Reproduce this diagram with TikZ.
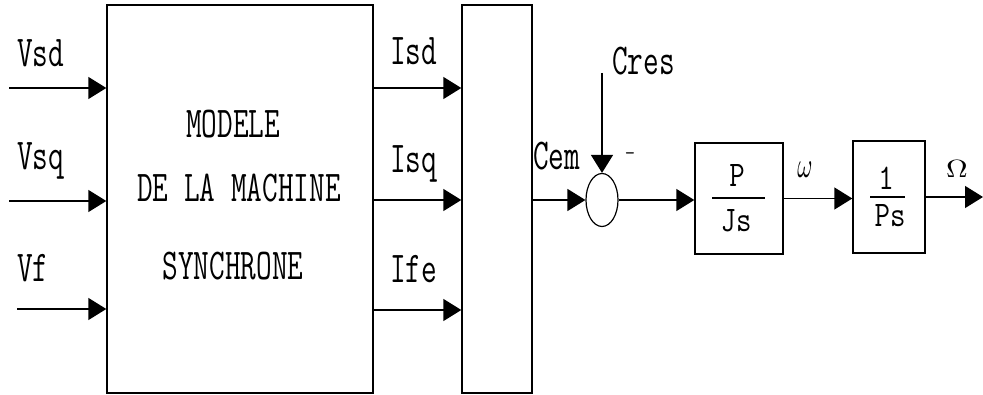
\documentclass[tikz,border=0pt]{standalone}
\usepackage{graphicx}
\usetikzlibrary{arrows.meta,shapes.geometric}
\newcommand{\nar}[2][0.76]{\scalebox{#1}[1.1]{#2}}
\newcommand{\frt}[1]{\scalebox{1.0}[1.2]{#1}}
\tikzset{
  big/.style={font=\fontsize{40}{40}\selectfont\ttfamily, inner sep=0pt, anchor=base},
  bigw/.style={big, anchor=base west},
  mid/.style={font=\fontsize{30}{30}\selectfont\ttfamily, inner sep=0pt, anchor=base},
  blk/.style={draw, line width=1.4pt, inner sep=0pt, rectangle},
  arr/.style={line width=1.4pt, -{Triangle[length=18pt,width=22pt]}},
}
\begin{document}
\begin{tikzpicture}[x=1pt,y=-1pt]
\useasboundingbox (0,0) rectangle (983,395);
% blocks
\node[blk, minimum width=266pt, minimum height=388pt] (mod) at (240,199) {};
\node[blk, minimum width=70pt, minimum height=388pt] (mux) at (497,199) {};
\node[draw, line width=1.2pt, ellipse, minimum width=32pt, minimum height=53pt, inner sep=0pt] (sum) at (602,200) {};
\node[blk, minimum width=88pt, minimum height=111pt] (g1) at (739,198.5) {};
\node[blk, minimum width=72pt, minimum height=112pt] (g2) at (889,197) {};
% main block text
\node[big] (t1) at (233,138) {\nar{MODELE}};
\node[big] (t2) at (239,202) {\nar{DE LA MACHINE}};
\node[big] (t3) at (233,280) {\nar{SYNCHRONE}};
% inputs
\coordinate (vsdin) at (9,88);
\coordinate (vsqin) at (9,201);
\coordinate (vfin) at (17,309);
\draw[arr] (vsdin) -- (vsdin -| mod.west);
\draw[arr] (vsqin) -- (vsqin -| mod.west);
\draw[arr] (vfin) -- (vfin -| mod.west);
\node[bigw] (lvsd) at (17,67) {\nar{Vsd}};
\node[bigw] (lvsq) at (17,170) {\nar{Vsq}};
\node[bigw] (lvf) at (17,282) {\nar{Vf}};
% currents
\coordinate (isdy) at (0,88);
\coordinate (isqy) at (0,200);
\coordinate (ifey) at (0,310);
\draw[arr] (mod.east |- isdy) -- (mux.west |- isdy);
\draw[arr] (mod.east |- isqy) -- (mux.west |- isqy);
\draw[arr] (mod.east |- ifey) -- (mux.west |- ifey);
\node[bigw] (lisd) at (390,65) {\nar{Isd}};
\node[bigw] (lisq) at (390,173) {\nar{Isq}};
\node[bigw] (life) at (390,283) {\nar{Ife}};
% torque
\draw[arr] (mux.east |- sum) -- (sum.west);
\node[bigw] (lcem) at (533,170) {\nar{Cem}};
\coordinate (cresin) at (602,73);
\draw[arr] (cresin) -- (sum.north);
\node[bigw] (lcres) at (612,75) {\nar{Cres}};
\node[font=\fontsize{20}{20}\selectfont\ttfamily, inner sep=0pt] (minus) at (630,156) {-};
% mechanical
\draw[arr] (sum.east) -- (sum.east -| g1.west);
\draw[arr] (g1.east) -- (g1.east -| g2.west);
\coordinate (out) at (983,197);
\draw[arr] (g2.east) -- (out);
\node[inner sep=0pt] (lw) at (805,170) {\scalebox{2.3}[3.6]{$\omega$}};
\node[inner sep=0pt] (lom) at (957,169) {\scalebox{3}[2.5]{$\Omega$}};
% transfer functions
\node[mid] (p1) at (737,187) {\frt{P}};
\node[mid] (js) at (736,232) {\frt{Js}};
\draw[line width=1.2pt] (712,198) -- (765,198);
\node[mid] (one) at (886,190) {\frt{1}};
\node[mid] (ps) at (890,227) {\frt{Ps}};
\draw[line width=1.2pt] (870,197) -- (905,197);
\end{tikzpicture}
\end{document}
